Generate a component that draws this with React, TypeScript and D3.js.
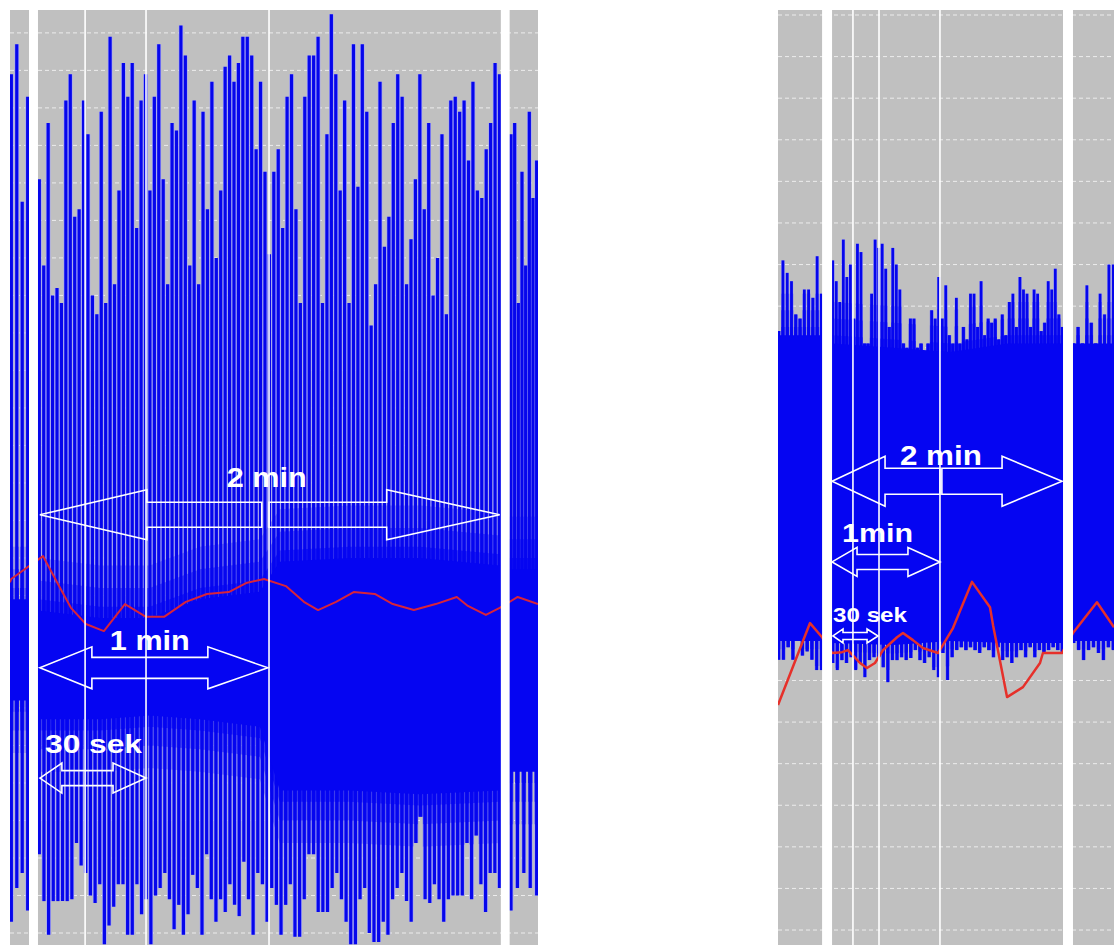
import React from "react";
import * as d3 from "d3";

// ================= LEFT PANEL DATA =================
const leftTimeMax = 137.8; // seconds shown
const leftValueDomain: [number, number] = [-3.2, 246.1];
const leftGridValues = d3.range(0, 241, 10);
const leftSegSpans = [[0, 4.96], [7.3, 128.1], [130.4, 137.8]];
const leftGaps = [[4.96, 7.3], [128.1, 130.4]];
const leftMarkers = [19.6, 35.5, 67.6];

const leftTopsA = [229, 237, 195, 223];
const leftTopsB = [
  201, 178, 216, 170, 172, 168, 222, 229, 191, 193,
  222, 213, 170, 165, 219, 168, 239, 173, 198, 232,
  223, 232, 188, 222, 229, 198, 223, 237, 201, 173,
  216, 214, 242, 234, 178, 222, 173, 219, 193, 227,
  180, 198, 231, 234, 227, 232, 239, 239, 234, 209,
  227, 203, 181, 203, 209, 188, 223, 229, 193, 168,
  223, 234, 234, 239, 168, 213, 245, 229, 198, 222,
  168, 237, 199, 237, 219, 162, 173, 227, 183, 191,
  216, 229, 223, 173, 185, 201, 229, 193, 216, 170,
  180, 213, 165, 222, 223, 219, 222, 206, 227, 198,
  196, 209, 216, 232, 229,
];
const leftTopsC = [213, 216, 168, 203, 178, 219, 196, 206];

const leftBottomsA = [3, 12, 16, 6];
const leftBottomsB = [
  21, 8.5, -0.5, 8.5, 8.5, 8.5, 8.5, 9, 24, 18,
  16, 10, 8, 13, -3, 2, 7, 13, 13, -0.5,
  -0.5, 13, 5, 9, -3, 10, 12, 16, 9, 1,
  7.5, -0.5, 5, 15.5, 12, -0.5, 21, 9, 3, 9,
  5.6, 13, 7.5, 4.5, 19, 9, -0.5, 16, 13, 3,
  12, 7.5, -0.5, 7.5, 13, -1, -1, 9, 21, 21,
  5.6, 5.6, 5.6, 12, 16, 9, 3, -3, -3, 9,
  12, 0, -2.4, -2.4, 3, -0.5, 9, 12, 16, 8.5,
  3, 24, 31, 9, 8, 13, 9, 3, 9, 10,
  10, 10, 24, 9, 26, 13, 5.6, 16, 16, 12,
];
const leftBottomsC = [6, 12, 16, 12, 10];

const leftBandT = [0, 5, 7.3, 23.5, 36.5, 49.6, 65.2, 70.4, 88.7, 107, 127.8, 130.4, 137.8];
const leftBandHi = [89, 89, 86, 84, 84, 89, 91, 99, 100, 100, 98, 97, 97];
const leftBandLo = [62, 62, 57, 57, 58, 57, 55, 38, 38, 37, 38, 43, 43];

const leftRedT = [0, 0.3, 8.6, 12.8, 15.9, 19.8, 24.5, 30.0, 35.5, 40.2, 45.9, 51.4, 57.1, 61.6, 66.3, 72.0, 76.7, 80.4, 85.1, 89.7, 95.2, 99.9, 105.4, 111.1, 116.6, 119.5, 124.2, 127.8, 132.5, 137.8];
const leftRedV = [93.5, 94.4, 100.5, 92.5, 86.7, 82.4, 80.5, 87.7, 84.3, 84.3, 88.3, 90.4, 90.9, 93.3, 94.4, 92.5, 88.3, 86.1, 88.3, 90.9, 90.4, 87.7, 86.1, 87.7, 89.6, 87.2, 84.8, 86.7, 89.6, 87.7];

const leftArrows = [
  { t0: 7.8, t1: 65.7, v: 111.5, headStart: 107, headEnd: 0, headHalf: 25, shaftHalf: 12.5 },
  { t0: 67.6, t1: 127.8, v: 111.5, headStart: 0, headEnd: 113, headHalf: 25, shaftHalf: 12.5 },
  { t0: 7.8, t1: 67.3, v: 70.7, headStart: 52, headEnd: 60, headHalf: 21, shaftHalf: 10.5 },
  { t0: 7.8, t1: 35.5, v: 41.3, headStart: 22, headEnd: 33, headHalf: 15, shaftHalf: 7.5 },
];
const leftLabels = [
  { text: "2 min", t: 67.0, v: 118.9, size: 28, width: 80 },
  { text: "1 min", t: 36.5, v: 75.5, size: 27, width: 80 },
  { text: "30 sek", t: 21.8, v: 48.0, size: 26, width: 97 },
];

// ================= RIGHT PANEL DATA =================
const rightTimeMax = 175.3;
const rightValueDomain: [number, number] = [-3.6, 221.2];
const rightGridValues = d3.range(0, 221, 10);
const rightSegSpans = [[0, 23.0], [28.2, 148.7], [153.9, 175.3]];
const rightGaps = [[23.0, 28.2], [148.7, 153.9]];
const rightMarkers = [39.1, 52.7, 84.5];

const rightTopsA = [144, 161, 158, 156, 148, 147, 154, 154, 152, 162, 153];
const rightTopsB = [
  161, 156, 151, 166, 157, 160, 147, 165, 163, 141,
  141, 153, 166, 164, 165, 159, 145, 164, 160, 154,
  141, 140, 147, 147, 140, 141, 139, 141, 149, 147,
  157, 147, 155, 143, 141, 152, 141, 145, 142, 153,
  153, 145, 156, 143, 147, 146, 147, 142, 148, 143,
  151, 153, 145, 157, 154, 153, 145, 154, 153, 144,
  146, 156, 154, 159, 148, 145,
];
const rightTopsC = [141, 145, 141, 155, 146, 141, 153, 148, 160, 160];

const rightBottomsA = [65, 65, 68, 65, 70, 66, 67, 65, 62.5, 62.5];
const rightBottomsB = [
  64.2, 62.5, 64.9, 64.2, 65.6, 62.5, 64.2, 60.8, 64.9, 65.6,
  65.6, 63.2, 59.6, 64.9, 64.9, 65.6, 64.9, 65.4, 67.3, 64.9,
  64.2, 65.6, 62.5, 60.8, 66.6, 60.1, 65.6, 67.3, 68, 67.3,
  68, 67.3, 66.6, 68, 67.3, 65.6, 68, 64.9, 65.6, 64.2,
  65.6, 67.3, 65.6, 68, 65.6, 67.3, 66.6, 67.3, 68, 67.3, 66.6,
];
const rightBottomsC = [69, 67.3, 64.9, 67.3, 68, 66.6, 64.9, 68, 67.3];

const rightBandT = [0, 23, 28.2, 60, 90, 120, 148.7, 153.9, 175.3];
const rightBandHi = [143, 143, 141, 140, 139, 141, 141, 141, 141];
const rightBandLo = [69.5, 69.5, 69, 68.5, 69.5, 69, 69, 69.5, 69.5];

const rightRedT = [0, 16.7, 23.0, 28.2, 33.4, 36.5, 42.8, 46.4, 50.6, 54.8, 62.1, 65.2, 70.4, 75.6, 83.5, 91.3, 101.2, 110.6, 112.2, 119.5, 127.8, 136.7, 138.2, 148.1, 153.9, 166.4, 175.3];
const rightRedV = [54.1, 73.8, 70.4, 66.6, 66.8, 67.3, 64.2, 63.0, 64.2, 67.3, 70.4, 71.4, 69.7, 67.8, 66.6, 72.6, 83.7, 77.6, 73.3, 56.0, 58.4, 64.2, 66.6, 66.6, 71.4, 78.8, 72.8];

const rightArrows = [
  { t0: 28.2, t1: 84.5, v: 107.9, headStart: 53, headEnd: 0, headHalf: 25, shaftHalf: 13 },
  { t0: 85.5, t1: 148.2, v: 107.9, headStart: 0, headEnd: 60, headHalf: 25, shaftHalf: 13 },
  { t0: 28.2, t1: 84.5, v: 88.5, headStart: 25, headEnd: 32, headHalf: 14.5, shaftHalf: 7.5 },
  { t0: 28.7, t1: 52.2, v: 70.7, headStart: 10, headEnd: 11, headHalf: 7, shaftHalf: 3.5 },
];
const rightLabels = [
  { text: "2 min", t: 85.0, v: 111.8, size: 28, width: 82 },
  { text: "1min", t: 51.9, v: 93.3, size: 26, width: 71 },
  { text: "30 sek", t: 48.0, v: 74.0, size: 21, width: 74 },
];

// ================= RENDERING =================
const TOP = 10;
const BOTTOM = 945;

type Arrow = { t0: number; t1: number; v: number; headStart: number; headEnd: number; headHalf: number; shaftHalf: number };
type Label = { text: string; t: number; v: number; size: number; width: number };

function arrowPath(xa: number, xb: number, yc: number, a: Arrow) {
  const { headStart: hs, headEnd: he, headHalf: hh, shaftHalf: sh } = a;
  const pts: [number, number][] = [];
  if (hs > 0) {
    pts.push([xa, yc], [xa + hs, yc - hh], [xa + hs, yc - sh]);
  } else {
    pts.push([xa, yc - sh]);
  }
  if (he > 0) {
    pts.push([xb - he, yc - sh], [xb - he, yc - hh], [xb, yc], [xb - he, yc + hh], [xb - he, yc + sh]);
  } else {
    pts.push([xb, yc - sh], [xb, yc + sh]);
  }
  if (hs > 0) {
    pts.push([xa + hs, yc + sh], [xa + hs, yc + hh]);
  } else {
    pts.push([xa, yc + sh]);
  }
  return "M" + pts.map((p) => p.join(",")).join("L") + "Z";
}

type PanelProps = {
  id: string;
  x0: number;
  x1: number;
  tMax: number;
  vDomain: [number, number];
  grid: number[];
  segs: { span: number[]; tops: number[]; bottoms: number[] }[];
  gaps: number[][];
  markers: number[];
  bandT: number[];
  bandHi: number[];
  bandLo: number[];
  redT: number[];
  redV: number[];
  arrows: Arrow[];
  labels: Label[];
  mid: number;
  core: number;
  halo: number;
  fade: number[]; // value-unit widening of the translucent band layers
  redColor: string;
  redWidth: number;
};

function Panel(p: PanelProps) {
  const x = d3.scaleLinear().domain([0, p.tMax]).range([p.x0, p.x1]);
  const y = d3.scaleLinear().domain(p.vDomain).range([BOTTOM, TOP]);

  const spikes: { x: number; ya: number; yb: number }[] = [];
  p.segs.forEach((seg) => {
    const [t0, t1] = seg.span;
    const place = (n: number) =>
      d3.scaleLinear().domain([0, Math.max(1, n - 1)]).range([t0 + 0.35, t1 - 0.35]);
    const pt = place(seg.tops.length);
    seg.tops.forEach((v, i) => spikes.push({ x: x(pt(i)), ya: y(p.mid), yb: y(v) }));
    const pb = place(seg.bottoms.length);
    seg.bottoms.forEach((v, i) => spikes.push({ x: x(pb(i)), ya: y(p.mid), yb: y(v) }));
  });

  const bandData = p.bandT.map((t, i) => ({ t, hi: p.bandHi[i], lo: p.bandLo[i] }));
  const areaFor = (grow: number) =>
    d3
      .area<{ t: number; hi: number; lo: number }>()
      .x((d) => x(d.t))
      .y0((d) => y(d.lo - grow))
      .y1((d) => y(d.hi + grow));

  const redData = p.redT.map((t, i) => ({ t, v: p.redV[i] }));
  const line = d3
    .line<{ t: number; v: number }>()
    .x((d) => x(d.t))
    .y((d) => y(d.v));

  const clipId = "clip-" + p.id;
  const maskId = "mask-" + p.id;
  const fadeOpacity = [0.3, 0.5, 0.75];

  return (
    <g>
      <defs>
        <clipPath id={clipId}>
          <rect x={p.x0} y={TOP} width={p.x1 - p.x0} height={BOTTOM - TOP} />
        </clipPath>
        <mask id={maskId} maskUnits="userSpaceOnUse" x={p.x0} y={TOP} width={p.x1 - p.x0} height={BOTTOM - TOP}>
          {spikes.map((s, i) => (
            <line key={"mk" + i} x1={s.x} x2={s.x} y1={s.ya} y2={s.yb} stroke="#ffffff" strokeWidth={p.halo} />
          ))}
        </mask>
      </defs>
      <g clipPath={`url(#${clipId})`}>
        <rect x={p.x0} y={TOP} width={p.x1 - p.x0} height={BOTTOM - TOP} fill="#c0c0c0" />
        {p.grid.map((v) => (
          <line
            key={"g" + v}
            x1={p.x0}
            x2={p.x1}
            y1={y(v)}
            y2={y(v)}
            stroke="#ececec"
            strokeWidth={1}
            strokeDasharray="4 3"
          />
        ))}
        {spikes.map((s, i) => (
          <line key={"h" + i} x1={s.x} x2={s.x} y1={s.ya} y2={s.yb} stroke="#a6a6f4" strokeWidth={p.halo} />
        ))}
        {spikes.map((s, i) => (
          <line key={"c" + i} x1={s.x} x2={s.x} y1={s.ya} y2={s.yb} stroke="#0606ec" strokeWidth={p.core} />
        ))}
        <g mask={`url(#${maskId})`}>
          {p.fade.map((g, i) => (
            <path key={"f" + i} d={areaFor(g)(bandData) || ""} fill="#0505f2" fillOpacity={fadeOpacity[i]} />
          ))}
        </g>
        <path d={areaFor(0)(bandData) || ""} fill="#0505f2" />
        <path d={line(redData) || ""} fill="none" stroke={p.redColor} strokeWidth={p.redWidth} strokeLinejoin="round" />
        {p.markers.map((t) => (
          <line key={"m" + t} x1={x(t)} x2={x(t)} y1={TOP} y2={BOTTOM} stroke="#ffffff" strokeWidth={1.6} />
        ))}
        {p.gaps.map(([a, b]) => (
          <rect key={"gap" + a} x={x(a)} y={TOP} width={x(b) - x(a)} height={BOTTOM - TOP} fill="#ffffff" />
        ))}
        {p.arrows.map((a, i) => (
          <path
            key={"a" + i}
            d={arrowPath(x(a.t0), x(a.t1), y(a.v), a)}
            fill="none"
            stroke="#ffffff"
            strokeWidth={1.6}
            strokeLinejoin="miter"
          />
        ))}
        {p.labels.map((l) => (
          <text
            key={l.text}
            x={x(l.t)}
            y={y(l.v)}
            textAnchor="middle"
            fontFamily="'Liberation Sans', Arial, sans-serif"
            fontWeight="bold"
            fontSize={l.size}
            fill="#ffffff"
            textLength={l.width}
            lengthAdjust="spacingAndGlyphs"
          >
            {l.text}
          </text>
        ))}
      </g>
    </g>
  );
}

export default function App() {
  const leftSegs = [
    { span: leftSegSpans[0], tops: leftTopsA, bottoms: leftBottomsA },
    { span: leftSegSpans[1], tops: leftTopsB, bottoms: leftBottomsB },
    { span: leftSegSpans[2], tops: leftTopsC, bottoms: leftBottomsC },
  ];
  const rightSegs = [
    { span: rightSegSpans[0], tops: rightTopsA, bottoms: rightBottomsA },
    { span: rightSegSpans[1], tops: rightTopsB, bottoms: rightBottomsB },
    { span: rightSegSpans[2], tops: rightTopsC, bottoms: rightBottomsC },
  ];
  return (
    <svg
      width={1114}
      height={949}
      style={{ position: "absolute", left: 0, top: 0, display: "block", background: "#ffffff" }}
    >
      <rect x={0} y={0} width={1114} height={949} fill="#ffffff" />
      <Panel
        id="left"
        x0={10}
        x1={538}
        tMax={leftTimeMax}
        vDomain={leftValueDomain}
        grid={leftGridValues}
        segs={leftSegs}
        gaps={leftGaps}
        markers={leftMarkers}
        bandT={leftBandT}
        bandHi={leftBandHi}
        bandLo={leftBandLo}
        redT={leftRedT}
        redV={leftRedV}
        arrows={leftArrows}
        labels={leftLabels}
        mid={72}
        core={3.2}
        halo={4.6}
        fade={[14, 8, 3]}
        redColor="#d8243a"
        redWidth={2}
      />
      <Panel
        id="right"
        x0={778}
        x1={1114}
        tMax={rightTimeMax}
        vDomain={rightValueDomain}
        grid={rightGridValues}
        segs={rightSegs}
        gaps={rightGaps}
        markers={rightMarkers}
        bandT={rightBandT}
        bandHi={rightBandHi}
        bandLo={rightBandLo}
        redT={rightRedT}
        redV={rightRedV}
        arrows={rightArrows}
        labels={rightLabels}
        mid={105}
        core={2.8}
        halo={3.6}
        fade={[10, 6, 2]}
        redColor="#e6302a"
        redWidth={2.5}
      />
    </svg>
  );
}
